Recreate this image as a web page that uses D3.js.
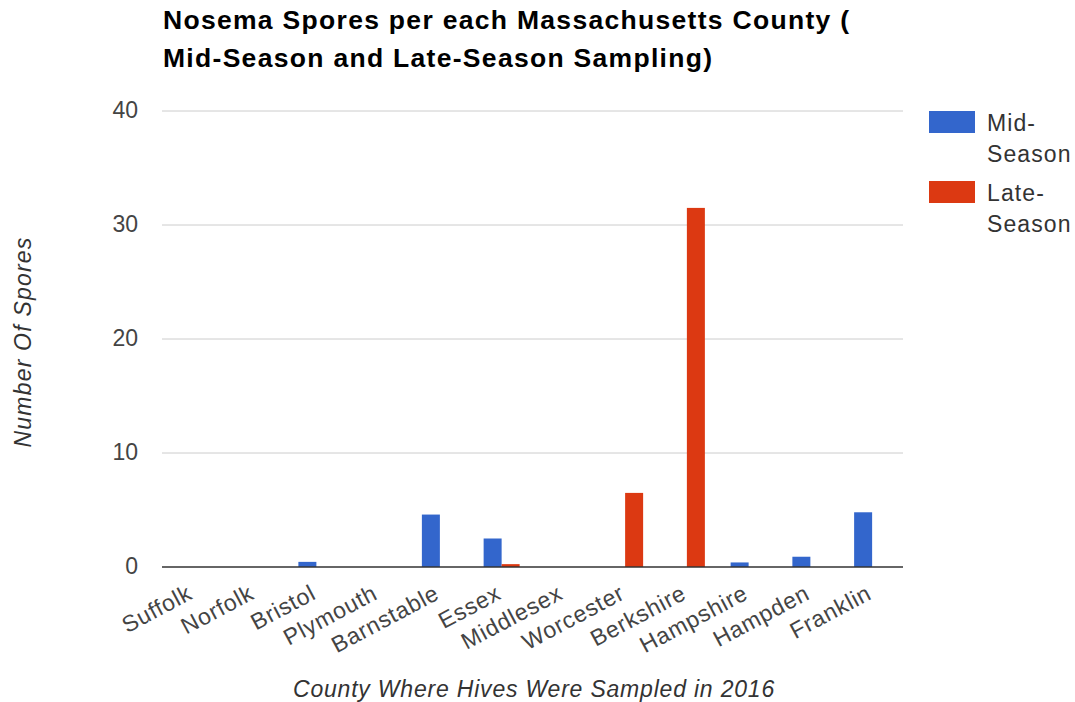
<!DOCTYPE html>
<html><head><meta charset="utf-8">
<script src="https://cdn.jsdelivr.net/npm/d3@7"></script>
<style>body{margin:0;background:#fff;} text{font-family:"Liberation Sans",Arial,sans-serif;}</style>
</head><body><svg id="c" width="1075" height="702"></svg>
<script>
const counties = ["Suffolk","Norfolk","Bristol","Plymouth","Barnstable","Essex","Middlesex","Worcester","Berkshire","Hampshire","Hampden","Franklin"];
const midSeason = [0,0,0.45,0,4.6,2.5,0,0,0,0.4,0.9,4.8];
const lateSeason = [0,0,0,0,0,0.25,0,6.5,31.5,0,0,0];
const seriesNames = ["Mid-Season","Late-Season"];
const seriesColors = ["#3366cc","#dc3912"];
const yTicks = [0,10,20,30,40];

const svg = d3.select("#c");
const L=162,R=903,T=111,B=567;
const x = d3.scaleBand().domain(counties).range([L,R]).paddingInner(0).paddingOuter(0);
const x1 = d3.scaleBand().domain(seriesNames).range([0,36]);
const y = d3.scaleLinear().domain([0,40]).range([B,T]);

// grid
svg.append("g").selectAll("line").data(yTicks.filter(d=>d>0)).join("line")
  .attr("x1",L).attr("x2",R).attr("y1",d=>y(d)).attr("y2",d=>y(d))
  .attr("stroke","#cccccc").attr("stroke-width",1);
// y labels
svg.append("g").selectAll("text").data(yTicks).join("text")
  .attr("x",138).attr("y",d=>y(d)+7).attr("text-anchor","end")
  .attr("font-size",23).attr("fill","#444").text(d=>d);

const data = counties.map((c,i)=>({c, vals:[midSeason[i],lateSeason[i]]}));
const g = svg.append("g");
data.forEach(d=>{
  d.vals.forEach((v,j)=>{
    if(v<=0) return;
    g.append("rect")
      .attr("x",x(d.c)+x.bandwidth()/2-18+x1(seriesNames[j]))
      .attr("width",x1.bandwidth())
      .attr("y",y(v)).attr("height",y(0)-y(v))
      .attr("fill",seriesColors[j]);
  });
});
// baseline
svg.append("line").attr("x1",L).attr("x2",R).attr("y1",B).attr("y2",B).attr("stroke","#333").attr("stroke-width",1.5);

// x labels
svg.append("g").selectAll("text").data(counties).join("text")
  .attr("transform",d=>`translate(${x(d)+x.bandwidth()/2+1},${B+31}) rotate(-28)`)
  .attr("text-anchor","end").attr("font-size",23).attr("letter-spacing",0.8).attr("fill","#444").text(d=>d);

// title
const title = svg.append("text").attr("font-size",26.5).attr("letter-spacing",1.3).attr("font-weight","bold").attr("fill","#000");
title.append("tspan").attr("x",163).attr("y",29).text("Nosema Spores per each Massachusetts County (");
title.append("tspan").attr("x",163).attr("y",67).text("Mid-Season and Late-Season Sampling)");

// axis titles
svg.append("text").attr("x",534).attr("y",697).attr("text-anchor","middle").attr("font-size",23).attr("letter-spacing",0.8)
  .attr("font-style","italic").attr("fill","#333").text("County Where Hives Were Sampled in 2016");
svg.append("text").attr("transform","translate(31,342) rotate(-90)").attr("text-anchor","middle").attr("font-size",23).attr("letter-spacing",1.2)
  .attr("font-style","italic").attr("fill","#333").text("Number Of Spores");

// legend
const leg = svg.append("g");
seriesNames.forEach((s,i)=>{
  const yy = 111 + i*70;
  leg.append("rect").attr("x",929).attr("y",yy).attr("width",46).attr("height",22).attr("fill",seriesColors[i]);
  const parts = s.split("-");
  leg.append("text").attr("x",987).attr("y",yy+20).attr("font-size",23).attr("letter-spacing",1.1).attr("fill","#333").text(parts[0]+"-");
  leg.append("text").attr("x",987).attr("y",yy+51).attr("font-size",23).attr("letter-spacing",1.1).attr("fill","#333").text(parts[1]);
});
</script></body></html>
